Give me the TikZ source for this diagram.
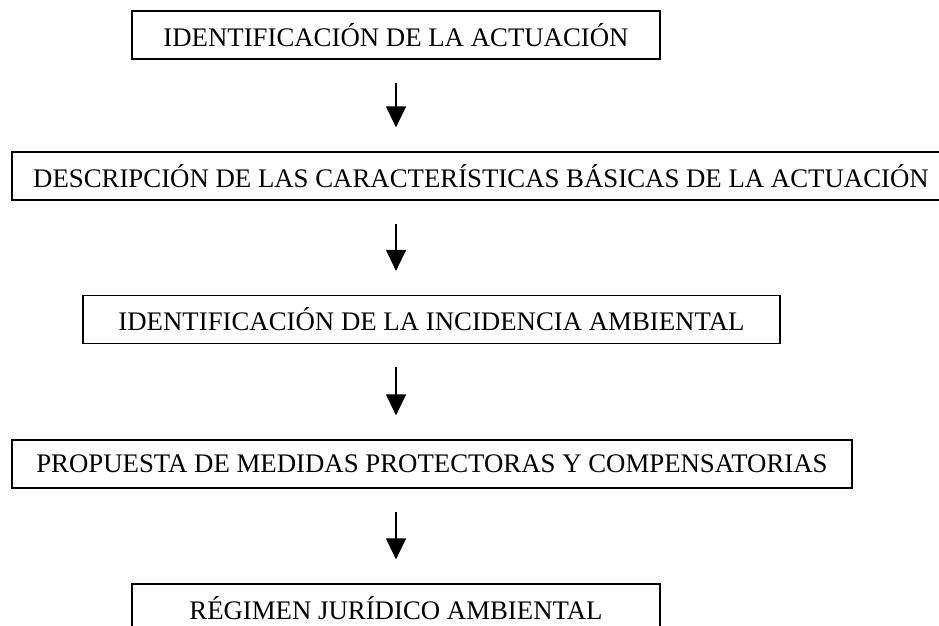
\documentclass[tikz,border=0pt]{standalone}
\usepackage{fontspec}
\setmainfont{Liberation Serif}
\usetikzlibrary{arrows.meta}
\begin{document}
\begin{tikzpicture}[x=1pt, y=1pt]
		\tikzset{paso/.style={draw=black, line width=1.2pt, inner sep=0pt, minimum height=48pt, font=\fontsize{26.8}{30}\selectfont}};
		\tikzset{flecha/.style={line width=1.3pt, -{Triangle[width=20pt, length=21pt]}, shorten <=23pt, shorten >=24pt}};
		\useasboundingbox (0, 0) rectangle (939, 626);

		\node[paso, minimum width=528pt] (act) at (396, 591) {IDENTIFICACIÓN DE LA ACTUACIÓN};
		\node[paso, minimum width=938pt] (desc) at (481, 450) {DESCRIPCIÓN DE LAS CARACTERÍSTICAS BÁSICAS DE LA ACTUACIÓN};
		\node[paso, minimum width=697pt] (inc) at (431.5, 306.5) {IDENTIFICACIÓN DE LA INCIDENCIA AMBIENTAL};
		\node[paso, minimum width=840pt] (med) at (432, 162) {PROPUESTA DE MEDIDAS PROTECTORAS Y COMPENSATORIAS};
		\node[paso, minimum width=528pt] (jur) at (396, 18) {RÉGIMEN JURÍDICO AMBIENTAL};

		\draw[flecha] (act.south) -- (act.south |- desc.north);
		\draw[flecha] (act.south |- desc.south) -- (act.south |- inc.north);
		\draw[flecha] (act.south |- inc.south) -- (act.south |- med.north);
		\draw[flecha] (act.south |- med.south) -- (jur.north);

	\end{tikzpicture}
\end{document}
